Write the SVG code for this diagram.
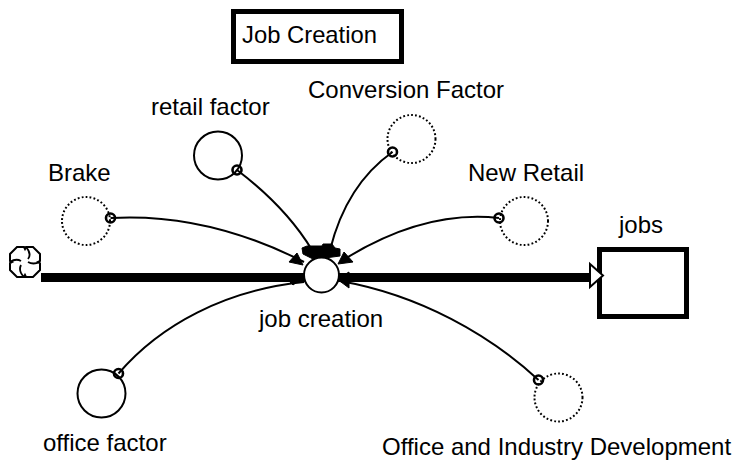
<svg xmlns="http://www.w3.org/2000/svg" width="734" height="462" viewBox="0 0 734 462">
<style>
text{font-family:"Liberation Sans",Arial,sans-serif;font-size:24px;fill:#000}
.aux{fill:#fff;stroke:#000;stroke-width:2}
.ext{fill:#fff;stroke:#000;stroke-width:2;stroke-dasharray:1.8 2.2}
.link{fill:none;stroke:#000;stroke-width:2}
.dot{fill:none;stroke:#000;stroke-width:2.600}
.head{fill:#000;stroke:#000;stroke-width:1}
</style>
<rect width="734" height="462" fill="#fff"/>
<g id="title"><rect x="233.500" y="11.500" width="168" height="50" fill="#fff" stroke="#000" stroke-width="5"/><text x="242" y="42.500" textLength="135" lengthAdjust="spacingAndGlyphs">Job Creation</text></g>
<g id="node-cloud"><path d="M17 247H24L25 249L26 247H33L40 254V261L38 262L40 263V270L33 277H26L25 275L24 277H17L10 270V263L12 262L10 261V254Z" fill="#fff" stroke="#000" stroke-width="2"/>
<path d="M26 247q6 7 2 12M40 262q-7 3 -12 0M24 277q-6 -6 -3 -12M10 262q6 -4 11 -1" fill="none" stroke="#000" stroke-width="1.800"/></g>
<g id="node-brake"><circle class="ext" cx="86" cy="221" r="24"/><text x="48" y="181">Brake</text></g>
<g id="node-retail-factor"><circle class="aux" cx="218" cy="155.500" r="24"/><text x="151" y="115">retail factor</text></g>
<g id="node-conversion-factor"><circle class="ext" cx="411.500" cy="139" r="24"/><text x="308" y="98">Conversion Factor</text></g>
<g id="node-new-retail"><circle class="ext" cx="524" cy="221" r="24"/><text x="468" y="181">New Retail</text></g>
<g id="node-office-factor"><circle class="aux" cx="101.500" cy="393.500" r="24"/><text x="43" y="451">office factor</text></g>
<g id="node-office-industry"><circle class="ext" cx="558.500" cy="397.500" r="24"/><text x="382" y="455">Office and Industry Development</text></g>
<g id="node-jobs"><rect x="599.500" y="249.500" width="87" height="67" fill="#fff" stroke="#000" stroke-width="5"/><text x="619" y="233">jobs</text></g>
<g id="connectors">
<path d="M41 277.500H590" stroke="#000" stroke-width="9" fill="none"/>
<polygon points="590,264 603,275.500 590,287" fill="#fff" stroke="#000" stroke-width="2"/>
<path class="link" d="M110.500 218C180 214 245 232 304 262"/>
<path class="link" d="M237 170C270 195 295 222 312 250"/>
<path class="link" d="M392.500 152C360 175 340 210 330 250"/>
<path class="link" d="M499 218C445 212 390 230 340 262"/>
<path class="link" d="M118.500 373.500C160 325 225 290 304 282"/>
<path class="link" d="M538.500 380C490 335 420 295 340 281"/>
<circle class="dot" cx="110.500" cy="218" r="4.500"/><circle class="dot" cx="237" cy="170" r="4.500"/><circle class="dot" cx="392.500" cy="152" r="4.500"/><circle class="dot" cx="499" cy="218" r="4.500"/><circle class="dot" cx="118.500" cy="373.500" r="4.500"/><circle class="dot" cx="538.500" cy="380" r="4.500"/>
<polygon class="head" points="303,265 289,262 297,253"/>
<polygon class="head" points="338,264 344,252 353,262"/>
<polygon class="head" points="337,279 349,272 349,288"/>
<polygon class="head" points="302,248 307,246 322,246 323,244 332,244 335,248 340,249 340,256 325,258 313,259 303,254"/>
<polygon class="head" points="290,282 297,282 293,285"/>
</g>
<g id="node-job-creation"><circle class="aux" cx="321.500" cy="275" r="17.500"/><text x="259" y="327">job creation</text></g>
</svg>
